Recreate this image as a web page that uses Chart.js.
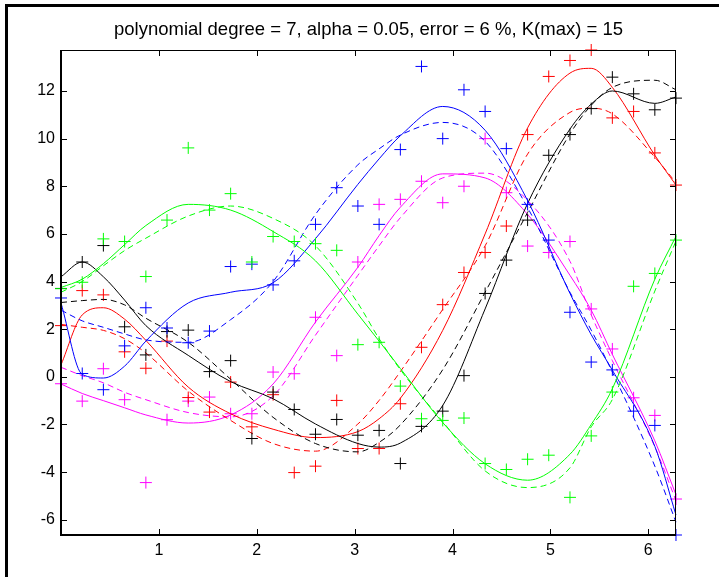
<!DOCTYPE html>
<html>
<head>
<meta charset="utf-8">
<script src="https://cdn.jsdelivr.net/npm/chart.js@4.4.0/dist/chart.umd.min.js"></script>
<style>
  html, body { margin: 0; padding: 0; background: #fff; }
  #wrap { width: 719px; height: 577px; }
</style>
</head>
<body>
<div id="wrap"><canvas id="plot" width="719" height="577"></canvas></div>
<script>
const titleText = "polynomial degree = 7, alpha = 0.05, error = 6 %, K(max) = 15";
const xTicks = [1, 2, 3, 4, 5, 6];
const yTicks = [-6, -4, -2, 0, 2, 4, 6, 8, 10, 12];
const xMax = 6.2832, yMin = -6.64, yMax = 13.72;

// sample positions of the '+' markers
const sampleX = [0, 0.217, 0.433, 0.65, 0.867, 1.083, 1.3, 1.517, 1.733, 1.95,
  2.167, 2.383, 2.6, 2.817, 3.033, 3.25, 3.467, 3.683, 3.9, 4.117,
  4.333, 4.55, 4.767, 4.983, 5.2, 5.417, 5.633, 5.85, 6.067, 6.283];

const greenPts = [3.7, 3.97, 5.79, 5.68, 4.21, 6.58, 9.61, 7.0, 7.69, 4.82,
  5.89, 5.68, 5.59, 5.31, 1.35, 1.45, -0.39, -1.76, -1.83, -1.73,
  -3.64, -3.89, -3.46, -3.29, -5.06, -2.48, -0.64, 3.8, 4.34, 5.74];
const bluePts = [3.31, 0.14, -0.54, 1.3, 2.9, 2.05, 1.43, 1.92, 4.63, 4.73,
  3.86, 4.87, 6.4, 7.94, 7.17, 6.4, 9.54, 13.03, 10.0, 12.05,
  11.14, 9.58, 7.24, 5.74, 2.71, 0.62, 0.29, -1.44, -2.04, -6.64];
const blackPts = [3.71, 4.82, 5.51, 2.1, 0.92, 1.9, 1.96, 0.22, 0.68, -2.59,
  -0.64, -1.37, -2.41, -1.79, -2.45, -2.25, -3.64, -2.08, -1.44, 0.05,
  3.5, 4.9, 6.58, 9.3, 10.17, 11.26, 12.58, 11.88, 11.21, 11.7];
const redPts = [2.15, 3.62, 3.44, 1.05, 0.36, 1.5, -0.87, -1.48, -0.22, -2.1,
  -0.75, -4.02, -3.75, -0.99, -3.01, -3.01, -1.13, 1.24, 3.03, 4.38,
  5.22, 6.33, 10.17, 12.61, 13.28, 13.72, 10.87, 11.14, 9.4, 8.05];
const magentaPts = [-0.29, -1.02, 0.34, -0.96, -4.44, -1.8, -1.02, -0.85, -1.55, -1.55,
  0.2, 0.13, 2.5, 0.89, 4.82, 7.24, 7.45, 8.21, 7.31, 8.0,
  10.0, 7.73, 5.49, 5.22, 5.68, 2.85, 1.17, -0.88, -1.62, -5.13];

// fitted curves, read at these x positions
const curveX = [0, 0.217, 0.433, 0.65, 0.867, 1.3, 1.733, 2.167, 2.6, 3.033,
  3.25, 3.467, 3.9, 4.333, 4.767, 5.2, 5.417, 5.633, 6.067, 6.283];

const greenSolid = [3.75, 4.1, 4.75, 5.55, 6.35, 7.24, 7.0, 6.1, 4.87, 2.63, 1.5, 0.35, -1.92, -3.65, -4.34, -3.25, -2.0, -0.5, 4.1, 5.9];
const greenDash = [3.55, 4.0, 4.66, 5.3, 5.82, 6.75, 7.17, 6.65, 5.5, 3.09, 1.6, 0.3, -1.88, -3.95, -4.65, -3.82, -2.1, -0.95, 3.6, 5.7];
const blueSolid = [3.1, 0.1, -0.05, 0.45, 1.5, 3.1, 3.55, 3.95, 5.8, 8.08, 9.15, 10.12, 11.35, 10.35, 7.4, 3.5, 1.77, 0.28, -2.92, -5.8];
const blueDash = [2.8, 2.35, 2.08, 1.8, 1.55, 1.45, 2.4, 4.0, 6.82, 8.9, 9.57, 10.15, 10.68, 9.89, 7.1, 3.55, 1.96, 0.2, -3.75, -6.1];
const blackSolid = [4.2, 4.82, 4.2, 3.22, 2.15, 0.9, -0.2, -0.92, -1.98, -2.8, -2.95, -2.78, -1.2, 2.85, 7.28, 10.4, 11.45, 12.0, 11.48, 11.75];
const blackDash = [3.12, 3.2, 3.25, 3.02, 2.46, 1.45, -0.1, -1.7, -2.8, -3.15, -2.75, -2.02, 0.3, 3.55, 6.9, 10.2, 11.4, 12.15, 12.45, 12.05];
const redSolid = [0.5, 2.6, 2.9, 2.42, 1.53, -0.43, -1.55, -2.2, -2.55, -2.3, -1.76, -0.9, 1.95, 6.0, 10.45, 12.75, 12.95, 12.15, 9.3, 8.05];
const redDash = [2.2, 2.08, 1.95, 1.6, 1.0, -0.6, -1.83, -2.8, -3.12, -1.98, -0.99, 0.22, 2.83, 5.5, 9.35, 11.1, 11.28, 11.04, 9.22, 8.15];
const magentaSolid = [-0.3, -0.7, -1.0, -1.3, -1.6, -1.94, -1.6, -0.3, 2.3, 4.6, 5.93, 7.12, 8.52, 8.35, 6.82, 4.26, 2.8, 0.94, -2.69, -4.95];
const magentaDash = [0.4, 0.05, -0.25, -0.65, -0.96, -1.5, -1.68, -0.8, 1.75, 4.26, 5.5, 6.68, 8.35, 8.55, 7.41, 4.85, 2.6, 0.68, -2.94, -5.2];

Chart.defaults.font.family = "'Liberation Sans', Arial, sans-serif";
Chart.defaults.font.size = 16;
Chart.defaults.color = '#000';

function markers(label, ys, color) {
  return {
    label: label,
    data: sampleX.map((x, i) => ({ x: x, y: ys[i] })),
    showLine: false,
    pointStyle: 'cross',
    pointRadius: 6,
    pointBorderWidth: 1,
    borderColor: color,
    backgroundColor: color,
    clip: false
  };
}

function curve(label, ys, color, dash) {
  return {
    label: label,
    data: curveX.map((x, i) => ({ x: x, y: ys[i] })),
    showLine: true,
    pointRadius: 0,
    borderWidth: 1,
    borderColor: color,
    borderDash: dash,
    cubicInterpolationMode: 'monotone',
    clip: false
  };
}

// axes box, inward ticks on all sides, and the figure border
const boxPlugin = {
  id: 'box',
  afterDraw(chart) {
    const ctx = chart.ctx;
    const a = chart.chartArea;
    const xs = chart.scales.x, ys = chart.scales.y;
    const tl = 6;
    ctx.save();
    ctx.fillStyle = '#000';
    ctx.fillRect(5, 4, 719 - 5, 3);
    ctx.fillRect(5, 4, 3, 577 - 4);

    ctx.fillRect(a.left - 1, a.top, 2, a.bottom - a.top);
    ctx.fillRect(a.left - 1, a.bottom - 1, a.right - a.left + 1, 2);
    ctx.fillRect(a.left, a.top, a.right - a.left, 1);
    ctx.fillRect(a.right - 1, a.top, 1, a.bottom - a.top);

    ctx.strokeStyle = '#000';
    ctx.lineWidth = 1;
    ctx.beginPath();
    xTicks.forEach(v => {
      const px = Math.round(xs.getPixelForValue(v)) + 0.5;
      ctx.moveTo(px, a.bottom); ctx.lineTo(px, a.bottom - tl);
      ctx.moveTo(px, a.top); ctx.lineTo(px, a.top + tl);
    });
    yTicks.forEach(v => {
      const py = Math.round(ys.getPixelForValue(v)) + 0.5;
      ctx.moveTo(a.left, py); ctx.lineTo(a.left + tl, py);
      ctx.moveTo(a.right, py); ctx.lineTo(a.right - tl, py);
    });
    ctx.stroke();
    ctx.restore();
  }
};

new Chart(document.getElementById('plot'), {
  type: 'scatter',
  data: {
    datasets: [
      markers('green', greenPts, '#00ff00'),
      curve('green fit', greenSolid, '#00ff00', []),
      curve('green fit 2', greenDash, '#00ff00', [6, 4]),
      markers('blue', bluePts, '#0000ff'),
      curve('blue fit', blueSolid, '#0000ff', []),
      curve('blue fit 2', blueDash, '#0000ff', [6, 4]),
      markers('black', blackPts, '#000000'),
      curve('black fit', blackSolid, '#000000', []),
      curve('black fit 2', blackDash, '#000000', [6, 4]),
      markers('red', redPts, '#ff0000'),
      curve('red fit', redSolid, '#ff0000', []),
      curve('red fit 2', redDash, '#ff0000', [6, 4]),
      markers('magenta', magentaPts, '#ff00ff'),
      curve('magenta fit', magentaSolid, '#ff00ff', []),
      curve('magenta fit 2', magentaDash, '#ff00ff', [6, 4])
    ]
  },
  options: {
    responsive: false,
    animation: false,
    devicePixelRatio: 1,
    events: [],
    layout: { padding: { top: 0, left: 0, right: 43, bottom: 0 } },
    plugins: {
      legend: { display: false },
      tooltip: { enabled: false },
      title: {
        display: true,
        text: titleText,
        fullSize: false,
        color: '#000',
        font: { size: 18.5, weight: 'normal' },
        padding: { top: 19, bottom: 8.8 }
      }
    },
    scales: {
      x: {
        type: 'linear',
        min: 0,
        max: xMax,
        grid: { display: false, drawTicks: false },
        border: { display: false },
        afterBuildTicks: s => { s.ticks = xTicks.map(v => ({ value: v })); },
        afterFit: s => { s.height = 42; },
        ticks: { padding: 6, maxRotation: 0, callback: v => String(v) }
      },
      y: {
        type: 'linear',
        min: yMin,
        max: yMax,
        grid: { display: false, drawTicks: false },
        border: { display: false },
        afterBuildTicks: s => { s.ticks = yTicks.map(v => ({ value: v })); },
        afterFit: s => { s.width = 61; },
        ticks: { padding: 6, callback: v => String(v) }
      }
    }
  },
  plugins: [boxPlugin]
});
</script>
</body>
</html>
